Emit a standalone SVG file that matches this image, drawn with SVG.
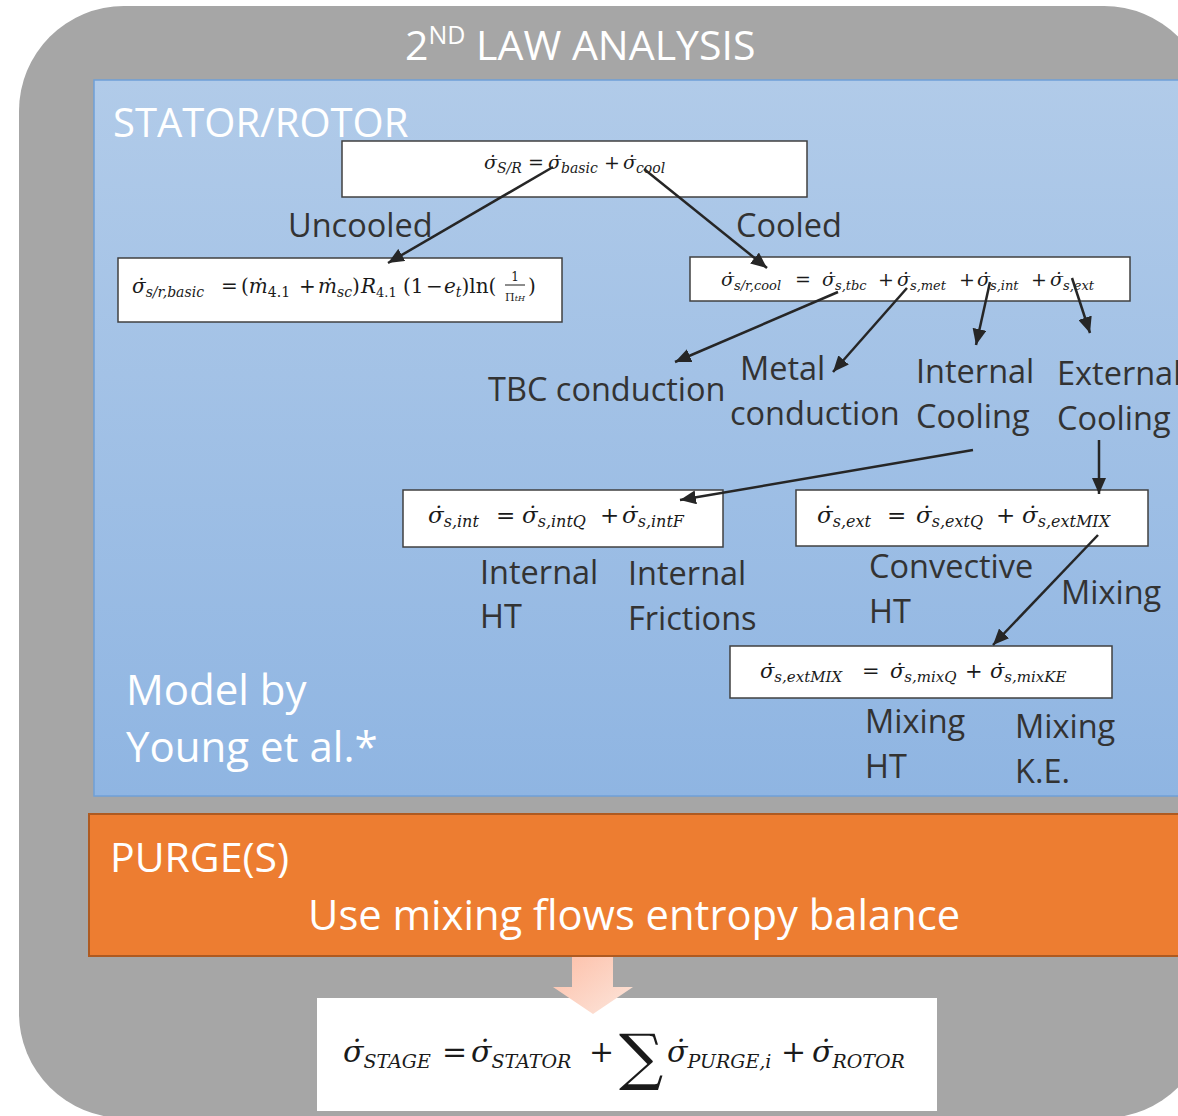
<svg xmlns="http://www.w3.org/2000/svg" width="1178" height="1116" viewBox="0 0 1178 1116">
<defs>
<linearGradient id="blueGrad" x1="0" y1="0" x2="0" y2="1">
<stop offset="0" stop-color="#B1CBE9"/>
<stop offset="1" stop-color="#8FB5E2"/>
</linearGradient>
<linearGradient id="peach" x1="0" y1="0" x2="1" y2="1">
<stop offset="0" stop-color="#FDBFA8"/>
<stop offset="1" stop-color="#FCE6DC"/>
</linearGradient>
<marker id="ah" markerUnits="userSpaceOnUse" markerWidth="18" markerHeight="14" refX="16" refY="7" orient="auto">
<path d="M0,0 L16,7 L0,14 Z" fill="#262626"/>
</marker>
<style>
.lbl{font-family:"Open Sans","Liberation Sans",sans-serif;font-size:32.5px;fill:#333333}
.wt{font-family:"Open Sans","Liberation Sans",sans-serif;fill:#FFFFFF}
.m{font-family:"DejaVu Serif","Liberation Serif",serif;font-style:italic;fill:#1a1a1a}
.up{font-style:normal}
.box{fill:#FFFFFF;stroke:#404040;stroke-width:1.5}
.con{stroke:#262626;stroke-width:2.5;fill:none;marker-end:url(#ah)}
</style>
</defs>

<g id="frame">
<rect x="19" y="6" width="1190" height="1112" rx="105" ry="105" fill="#A6A6A6"/>
<text class="wt" x="405" y="60" font-size="41">2<tspan font-size="25" dy="-16">ND</tspan><tspan dy="16"> LAW ANALYSIS</tspan></text>
</g>

<g id="stator-rotor">
<rect x="94" y="80" width="1100" height="716" fill="url(#blueGrad)" stroke="#6FA0D8" stroke-width="1.5"/>
<text class="wt" x="113" y="137" font-size="40">STATOR/ROTOR</text>
<text class="wt" x="126" y="705" font-size="42">Model by</text>
<text class="wt" x="126" y="762" font-size="42">Young et al.*</text>
</g>

<g id="purge">
<rect x="89" y="814" width="1100" height="142" fill="#ED7D31" stroke="#AE5A21" stroke-width="2"/>
<text class="wt" x="110" y="872" font-size="41">PURGE(S)</text>
<text class="wt" x="308" y="930" font-size="41.7">Use mixing flows entropy balance</text>
</g>

<g id="eq-sr">
<rect class="box" x="342" y="141" width="465" height="56"/>
<g class="m" font-size="19">
<text x="484" y="169">σ̇<tspan font-size="14" dy="4">S/R</tspan></text>
<text class="up" x="528" y="169">=</text>
<text x="548" y="169">σ̇<tspan font-size="14" dy="4">basic</tspan></text>
<text class="up" x="604" y="169">+</text>
<text x="623" y="169">σ̇<tspan font-size="14" dy="4">cool</tspan></text>
</g>
</g>

<g id="eq-basic">
<rect class="box" x="118" y="258" width="444" height="64"/>
<g class="m" font-size="20">
<text x="132" y="293">σ̇<tspan font-size="14" dy="4">s/r,basic</tspan></text>
<text class="up" x="221" y="293">=</text>
<text x="241" y="293"><tspan class="up">(</tspan>ṁ<tspan class="up" font-size="14" dy="4">4.1</tspan></text>
<text class="up" x="299" y="293">+</text>
<text x="318" y="293">ṁ<tspan font-size="14" dy="4">sc</tspan><tspan class="up" dy="-4">)</tspan></text>
<text x="361" y="293">R<tspan class="up" font-size="13" dy="4">4.1</tspan></text>
<text class="up" x="403" y="293">(1</text>
<text class="up" x="426" y="293">−</text>
<text x="444" y="293">e<tspan font-size="14" dy="4">t</tspan><tspan class="up" dy="-4">)ln(</tspan></text>
<text class="up" x="515" y="281" font-size="12" text-anchor="middle">1</text>
<text x="515" y="301" font-size="11" text-anchor="middle"><tspan class="up">Π</tspan><tspan font-size="8">tH</tspan></text>
<text class="up" x="528" y="293">)</text>
</g>
<line x1="505" y1="285" x2="525" y2="285" stroke="#1a1a1a" stroke-width="1"/>
</g>

<g id="eq-cool">
<rect class="box" x="690" y="257" width="440" height="44"/>
<g class="m" font-size="19">
<text x="721" y="286">σ̇<tspan font-size="13" dy="4">s/r,cool</tspan></text>
<text class="up" x="795" y="286">=</text>
<text x="822" y="286">σ̇<tspan font-size="13" dy="4">s,tbc</tspan></text>
<text class="up" x="878" y="286">+</text>
<text x="897" y="286">σ̇<tspan font-size="13" dy="4">s,met</tspan></text>
<text class="up" x="959" y="286">+</text>
<text x="977" y="286">σ̇<tspan font-size="13" dy="4">s,int</tspan></text>
<text class="up" x="1031" y="286">+</text>
<text x="1050" y="286">σ̇<tspan font-size="13" dy="4">s,ext</tspan></text>
</g>
</g>

<g id="eq-int">
<rect class="box" x="403" y="490" width="320" height="57"/>
<g class="m" font-size="23">
<text x="428" y="523">σ̇<tspan font-size="16" dy="4">s,int</tspan></text>
<text class="up" x="496" y="523">=</text>
<text x="522" y="523">σ̇<tspan font-size="16" dy="4">s,intQ</tspan></text>
<text class="up" x="600" y="523">+</text>
<text x="622" y="523">σ̇<tspan font-size="16" dy="4">s,intF</tspan></text>
</g>
</g>

<g id="eq-ext">
<rect class="box" x="796" y="490" width="352" height="56"/>
<g class="m" font-size="23">
<text x="817" y="523">σ̇<tspan font-size="16" dy="4">s,ext</tspan></text>
<text class="up" x="887" y="523">=</text>
<text x="916" y="523">σ̇<tspan font-size="16" dy="4">s,extQ</tspan></text>
<text class="up" x="996" y="523">+</text>
<text x="1022" y="523">σ̇<tspan font-size="16" dy="4">s,extMIX</tspan></text>
</g>
</g>

<g id="eq-mix">
<rect class="box" x="730" y="646" width="382" height="52"/>
<g class="m" font-size="21">
<text x="760" y="678">σ̇<tspan font-size="15" dy="4">s,extMIX</tspan></text>
<text class="up" x="862" y="678">=</text>
<text x="890" y="678">σ̇<tspan font-size="15" dy="4">s,mixQ</tspan></text>
<text class="up" x="965" y="678">+</text>
<text x="990" y="678">σ̇<tspan font-size="15" dy="4">s,mixKE</tspan></text>
</g>
</g>

<g id="labels">
<text class="lbl" x="288" y="237">Uncooled</text>
<text class="lbl" x="736" y="237">Cooled</text>
<text class="lbl" x="488" y="401">TBC conduction</text>
<text class="lbl" x="740" y="380">Metal</text>
<text class="lbl" x="730" y="425">conduction</text>
<text class="lbl" x="916" y="383">Internal</text>
<text class="lbl" x="916" y="428">Cooling</text>
<text class="lbl" x="1057" y="385">External</text>
<text class="lbl" x="1057" y="430">Cooling</text>
<text class="lbl" x="480" y="584">Internal</text>
<text class="lbl" x="480" y="628">HT</text>
<text class="lbl" x="628" y="585">Internal</text>
<text class="lbl" x="628" y="630">Frictions</text>
<text class="lbl" x="869" y="578">Convective</text>
<text class="lbl" x="869" y="623">HT</text>
<text class="lbl" x="1061" y="604">Mixing</text>
<text class="lbl" x="865" y="733">Mixing</text>
<text class="lbl" x="865" y="778">HT</text>
<text class="lbl" x="1015" y="738">Mixing</text>
<text class="lbl" x="1015" y="783">K.E.</text>
</g>

<g id="eq-stage">
<rect x="317" y="998" width="620" height="113" fill="#FFFFFF"/>
<g class="m" font-size="30">
<text x="343" y="1062">σ̇<tspan font-size="19" dy="6">STAGE</tspan></text>
<text class="up" x="442" y="1062">=</text>
<text x="471" y="1062">σ̇<tspan font-size="19" dy="6">STATOR</tspan></text>
<text class="up" x="589" y="1062">+</text>
<text class="up" x="619" y="1078" font-size="62">∑</text>
<text x="667" y="1062">σ̇<tspan font-size="19" dy="6">PURGE,i</tspan></text>
<text class="up" x="781" y="1062">+</text>
<text x="812" y="1062">σ̇<tspan font-size="19" dy="6">ROTOR</tspan></text>
</g>
</g>

<g id="purge-arrow">
<path d="M572,957 L613,957 L613,987 L633,987 L593,1014 L553,987 L572,987 Z" fill="url(#peach)"/>
</g>

<g id="connectors">
<line class="con" x1="553" y1="167" x2="388" y2="263"/>
<line class="con" x1="644" y1="169" x2="767" y2="268"/>
<line class="con" x1="838" y1="292" x2="675" y2="362"/>
<line class="con" x1="907" y1="288" x2="833" y2="372"/>
<line class="con" x1="990" y1="282" x2="976" y2="345"/>
<line class="con" x1="1072" y1="278" x2="1090" y2="333"/>
<line class="con" x1="973" y1="450" x2="680" y2="500"/>
<line class="con" x1="1099" y1="440" x2="1099" y2="494"/>
<line class="con" x1="1098" y1="535" x2="993" y2="645"/>
</g>
</svg>
